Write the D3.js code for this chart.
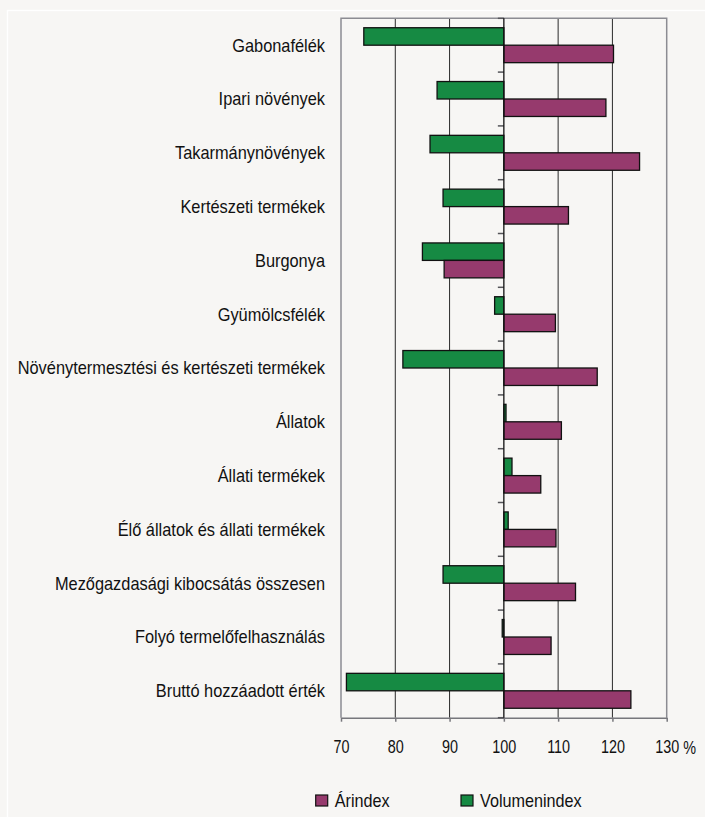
<!DOCTYPE html>
<html>
<head>
<meta charset="utf-8">
<script src="https://cdn.jsdelivr.net/npm/d3@7"></script>
<style>
  body { margin: 0; background: #f7f6f4; }
  svg text { font-family: "Liberation Sans", Arial, sans-serif; fill: #111; }
</style>
</head>
<body>
<svg id="chart"></svg>
<script>
// Data
const categories = [
  'Gabonafélék',
  'Ipari növények',
  'Takarmánynövények',
  'Kertészeti termékek',
  'Burgonya',
  'Gyümölcsfélék',
  'Növénytermesztési és kertészeti termékek',
  'Állatok',
  'Állati termékek',
  'Élő állatok és állati termékek',
  'Mezőgazdasági kibocsátás összesen',
  'Folyó termelőfelhasználás',
  'Bruttó hozzáadott érték'
];
const arindex = [120.2, 118.8, 125.0, 111.9, 89.0, 109.5, 117.2, 110.6, 106.8, 109.6, 113.2, 108.7, 123.4];
const volumenindex = [74.2, 87.7, 86.4, 88.8, 85.0, 98.3, 81.4, 100.4, 101.5, 100.8, 88.8, 99.7, 71.0];
const xTicks = [70, 80, 90, 100, 110, 120, 130];
const seriesNames = ['Volumenindex', 'Árindex'];
const legendNames = ['Árindex', 'Volumenindex'];

const colors = { 'Árindex': '#963a6d', 'Volumenindex': '#168a43' };

const width = 705, height = 817;
const plot = { left: 341, right: 666.7, top: 18.3, bottom: 717.7 };

const svg = d3.select('#chart')
  .attr('width', width)
  .attr('height', height);

// white frame
svg.append('rect')
  .attr('x', 7.5).attr('y', 10.5)
  .attr('width', 720).attr('height', 830)
  .attr('fill', 'none')
  .attr('stroke', '#ffffff')
  .attr('stroke-width', 1.4);

const x = d3.scaleLinear()
  .domain([70, 130])
  .range([plot.left, plot.right]);

const y = d3.scaleBand()
  .domain(categories)
  .range([plot.top, plot.bottom]);

const ySub = d3.scaleBand()
  .domain(seriesNames)
  .range([0, y.bandwidth()])
  .paddingOuter(0.54);

// gridlines
svg.append('g')
  .selectAll('line')
  .data(xTicks.filter(d => d !== 70 && d !== 130 && d !== 100))
  .join('line')
  .attr('x1', d => x(d)).attr('x2', d => x(d))
  .attr('y1', plot.top).attr('y2', plot.bottom)
  .attr('stroke', '#2a2a2a')
  .attr('stroke-width', 1);

// plot border (left, top, right)
svg.append('path')
  .attr('d', `M${x(70)},${plot.bottom}V${plot.top}H${x(130)}V${plot.bottom}`)
  .attr('fill', 'none')
  .attr('stroke', '#8c8c92')
  .attr('stroke-width', 1.5);

// bottom axis
const xAxis = svg.append('g')
  .attr('transform', `translate(0,${plot.bottom})`)
  .call(d3.axisBottom(x).tickValues(xTicks).tickSize(4).tickSizeOuter(0).tickPadding(19));
xAxis.select('.domain').attr('stroke', '#77777c').attr('stroke-width', 1.5);
xAxis.selectAll('.tick line').attr('stroke', '#77777c').attr('stroke-width', 1.5);
xAxis.selectAll('.tick text')
  .style('font-size', '18px')
  .attr('fill', '#111')
  .attr('transform', 'scale(0.8,1)');
xAxis.append('text')
  .attr('transform', `translate(${x(130) + 23},36) scale(0.8,1)`)
  .style('font-size', '18px')
  .attr('fill', '#111')
  .text('%');

// bars
const rows = categories.map((c, i) => ({ cat: c, 'Árindex': arindex[i], 'Volumenindex': volumenindex[i] }));

svg.append('g')
  .selectAll('g')
  .data(rows)
  .join('g')
  .attr('transform', d => `translate(0,${y(d.cat)})`)
  .selectAll('rect')
  .data(d => seriesNames.map(s => ({ key: s, value: d[s] })))
  .join('rect')
  .attr('x', d => x(Math.min(d.value, 100)))
  .attr('y', d => ySub(d.key))
  .attr('width', d => Math.abs(x(d.value) - x(100)))
  .attr('height', ySub.bandwidth())
  .attr('fill', d => colors[d.key])
  .attr('stroke', '#111')
  .attr('stroke-width', 1.3);

// category axis at 100
const yAxis = svg.append('g')
  .attr('transform', `translate(${x(100)},0)`)
  .call(d3.axisLeft(y).tickSize(0).tickFormat(''));
yAxis.select('.domain').remove();
yAxis.append('g')
  .selectAll('line')
  .data(categories.map(c => y(c)).concat([plot.bottom]))
  .join('line')
  .attr('x1', -6).attr('x2', 0)
  .attr('y1', d => d).attr('y2', d => d)
  .attr('stroke', '#55555a')
  .attr('stroke-width', 1.5);
yAxis.append('line')
  .attr('x1', 0).attr('x2', 0)
  .attr('y1', plot.top).attr('y2', plot.bottom)
  .attr('stroke', '#111')
  .attr('stroke-width', 1.3);

// category labels (squeezed to mimic the condensed face of the original)
svg.append('g')
  .selectAll('text')
  .data(categories)
  .join('text')
  .attr('transform', d => `translate(325,${y(d) + y.bandwidth() / 2}) scale(0.91,1)`)
  .attr('dy', '0.35em')
  .attr('text-anchor', 'end')
  .style('font-size', '18px')
  .text(d => d);

// legend
const legendX = [315.7, 461];
const legend = svg.append('g')
  .selectAll('g')
  .data(legendNames)
  .join('g')
  .attr('transform', (d, i) => `translate(${legendX[i]},795)`);
legend.append('rect')
  .attr('width', 12).attr('height', 11)
  .attr('fill', d => colors[d])
  .attr('stroke', '#111')
  .attr('stroke-width', 1.2);
legend.append('text')
  .attr('transform', 'translate(19,11.5) scale(0.9,1)')
  .style('font-size', '18px')
  .text(d => d);
</script>
</body>
</html>
